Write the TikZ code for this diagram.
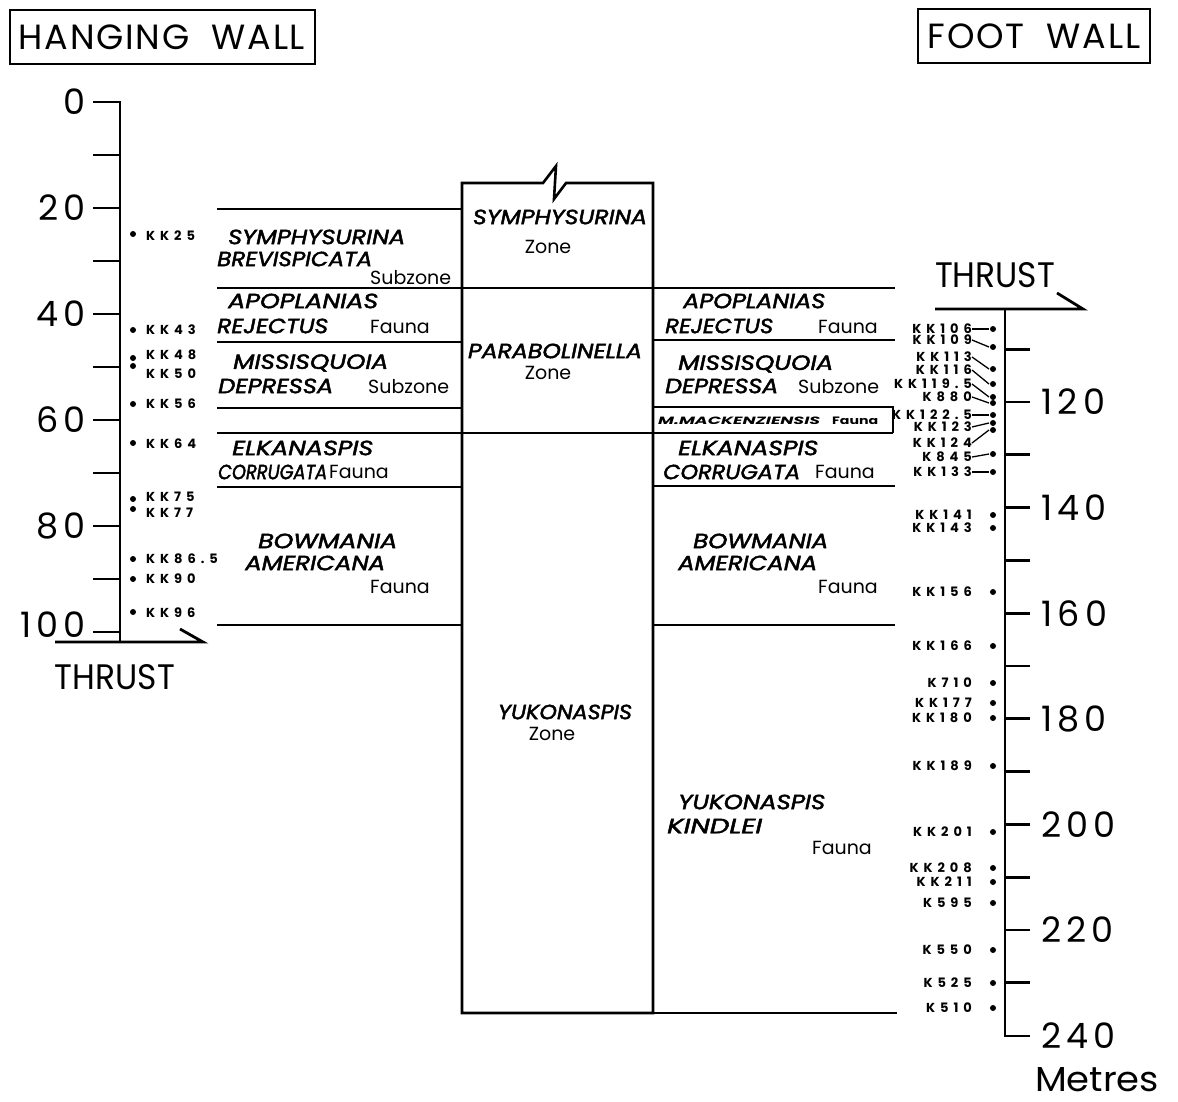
\documentclass[tikz,border=0pt]{standalone}
\usepackage{fontspec}
\usepackage{graphicx}
\usetikzlibrary{calc}
\setmainfont{Poppins}
\newfontfamily\spacedfont[LetterSpace=38]{Poppins}
\newfontfamily\numfont[LetterSpace=15]{Poppins}
\newfontfamily\titlefont[LetterSpace=5]{Poppins}
\newfontfamily\znfont[FakeBold=2]{Poppins}
\newcommand{\zname}[2]{\resizebox{#1pt}{14.5pt}{\znfont\itshape #2}}
\newcommand{\fitto}[3]{\resizebox{#1pt}{#2pt}{#3}}
\begin{document}
\begin{tikzpicture}[x=1pt,y=-1pt,
  zl/.style={line width=2.6pt},
  ax/.style={line width=2.8pt},
  big/.style={inner sep=0pt,font=\numfont\fontsize{35}{35}\selectfont},
  title/.style={draw,line width=2pt,inner sep=0pt,font=\titlefont\fontsize{35}{35}\selectfont},
  sp/.style={inner sep=0pt,anchor=west},
  rk/.style={inner sep=0pt,anchor=west,font=\fontsize{19}{19}\selectfont},
  smp/.style={inner sep=0pt,font=\spacedfont\bfseries\fontsize{13}{13}\selectfont},
  dt/.style={circle,fill,inner sep=0pt,minimum size=6pt},
  ld/.style={line width=1.3pt}
]
\useasboundingbox (0,0) rectangle (1178,1102);
% titles
\node[title,minimum width=305pt,minimum height=54pt] (hw) at (162,37) {HANGING\ \ WALL};
\node[title,minimum width=232pt,minimum height=54pt] (fw) at (1034,36) {FOOT\ \ WALL};
% left axis
\draw[ax] (93,102) -- (120,102) -- (120,642);
\foreach \m in {10,20,...,100} \draw[ax] (93,{102+5.3*\m}) -- (120,{102+5.3*\m});
\foreach \m in {0,20,40,60,80} \node[big,anchor=east] (l\m) at (86,{102+5.3*\m}) {\m};
\node[big,anchor=east] (l100) at (86,625) {100};
\draw[ax] (55,642) -- (203,642) -- (180,629);
\node[inner sep=0pt] (thl) at (115,677) {\fitto{120}{25}{THRUST}};
% right axis
\draw[ax] (935,309) -- (1083,309) -- (1057,293);
\node[inner sep=0pt] (thr) at (995,275) {\fitto{120}{25}{THRUST}};
\draw[ax] (1005,309) -- (1005,1036) -- (1030,1036);
\foreach \m in {110,120,...,230} \draw[ax] (1005,{402+5.28*(\m-120)}) -- (1030,{402+5.28*(\m-120)});
\foreach \m in {120,140,...,240} \node[big,anchor=west] (r\m) at (1041,{402+5.28*(\m-120)}) {\m};
\node[inner sep=0pt] (met) at (1097,1080) {\fitto{124}{24}{Metres}};
% middle box
\draw[zl] (462,1013) -- (462,183) -- (543,183) -- (556,166) -- (554,199) -- (566,183) -- (653,183) -- (653,1013) -- cycle;
% zone lines
\draw[zl] (217,209) -- (462,209);
\draw[zl] (217,288) -- (895,288);
\draw[zl] (217,342) -- (462,342);
\draw[zl] (653,340) -- (895,340);
\draw[zl] (217,408) -- (462,408);
\draw[zl] (653,407) -- (893,407) -- (893,433);
\draw[zl] (217,433) -- (893,433);
\draw[zl] (217,487) -- (462,487);
\draw[zl] (653,486) -- (895,486);
\draw[zl] (217,625) -- (462,625);
\draw[zl] (653,625) -- (895,625);
\draw[zl] (653,1013) -- (897,1013);
% left column names
\node[sp] (a1) at (228,237) {\zname{177}{SYMPHYSURINA}};
\node[sp] (a2) at (217,259) {\zname{155}{BREVISPICATA}};
\node[rk] (a3) at (370,278) {Subzone};
\node[sp] (b1) at (228,301) {\zname{150}{APOPLANIAS}};
\node[sp] (b2) at (217,326) {\zname{111}{REJECTUS}};
\node[rk] (b3) at (370,327) {Fauna};
\node[sp] (c1) at (233,363) {\zname{155}{MISSISQUOIA}};
\node[sp] (c2) at (218,386) {\zname{115}{DEPRESSA}};
\node[rk] (c3) at (368,387) {Subzone};
\node[sp] (d1) at (232,448) {\zname{141}{ELKANASPIS}};
\node[sp] (d2) at (218,472) {\zname{109}{CORRUGATA}};
\node[rk] (d3) at (329,472) {Fauna};
\node[sp] (e1) at (258,541) {\zname{139}{BOWMANIA}};
\node[sp] (e2) at (245,563) {\zname{140}{AMERICANA}};
\node[rk] (e3) at (370,587) {Fauna};
% middle names
\node[inner sep=0pt] (z1) at (560,217) {\zname{174}{SYMPHYSURINA}};
\node[rk,anchor=center] (z1b) at (548,247) {Zone};
\node[inner sep=0pt] (z2) at (555,351) {\zname{174}{PARABOLINELLA}};
\node[rk,anchor=center] (z2b) at (548,373) {Zone};
\node[inner sep=0pt] (z3) at (565,712) {\zname{134}{YUKONASPIS}};
\node[rk,anchor=center] (z3b) at (552,734) {Zone};
% right column names
\node[sp] (f1) at (683,301) {\zname{142}{APOPLANIAS}};
\node[sp] (f2) at (665,326) {\zname{108}{REJECTUS}};
\node[rk] (f3) at (818,327) {Fauna};
\node[sp] (g1) at (678,364) {\zname{155}{MISSISQUOIA}};
\node[sp] (g2) at (665,386) {\zname{113}{DEPRESSA}};
\node[rk] (g3) at (798,387) {Subzone};
\node[inner sep=0pt,anchor=west] (mm) at (658,421) {\fitto{162}{7.5}{\bfseries\itshape M.MACKENZIENSIS}};
\node[inner sep=0pt,anchor=west] (mmf) at (832,421) {\fitto{46}{7.5}{\bfseries Fauna}};
\node[sp] (h1) at (678,448) {\zname{140}{ELKANASPIS}};
\node[sp] (h2) at (663,472) {\zname{137}{CORRUGATA}};
\node[rk] (h3) at (815,472) {Fauna};
\node[sp] (i1) at (693,541) {\zname{135}{BOWMANIA}};
\node[sp] (i2) at (678,563) {\zname{139}{AMERICANA}};
\node[rk] (i3) at (818,587) {Fauna};
\node[sp] (j1) at (678,802) {\zname{147}{YUKONASPIS}};
\node[sp] (j2) at (667,826) {\zname{95}{KINDLEI}};
\node[rk] (j3) at (812,848) {Fauna};
% left samples
\foreach \n/\d/\t/\l in {s25/234/KK25/236, s43/330/KK43/330, s48/358/KK48/355, s50/366/KK50/374, s56/404/KK56/404, s64/443/KK64/444, s75/499/KK75/497, s77/509/KK77/513, s865/559/KK86.5/559, s90/579/KK90/579, s96/612/KK96/613}{
  \node[dt] (\n d) at (133,\d) {};
  \node[smp,anchor=west] (\n) at (146,\l) {\t};
}
% right samples with leaders
\foreach \n/\d/\t/\l in {r106/329/KK106/329, r109/347/KK109/340, r113/369/KK113/357, r116/384/KK116/370, r1195/397/KK119.5/384, r880/403/K880/397, r1225/415/KK122.5/415, r123/423/KK123/427, r124/430/KK124/443, r845/454/K845/457, r133/472/KK133/472}{
  \node[dt] (\n d) at (993,\d) {};
  \node[smp,anchor=east] (\n) at (972,\l) {\t};
  \draw[ld] ($(\n.east)+(0pt,0)$) -- ($(\n d)+(-4pt,0)$);
}
\foreach \n/\d/\t in {r141/515/KK141, r143/528/KK143, r156/592/KK156, r166/646/KK166, r710/683/K710, r177/703/KK177, r180/718/KK180, r189/766/KK189, r201/832/KK201, r208/868/KK208, r211/882/KK211, r595/903/K595, r550/950/K550, r525/983/K525, r510/1008/K510}{
  \node[dt] (\n d) at (993,\d) {};
  \node[smp,anchor=east] (\n) at (972,\d) {\t};
}
\end{tikzpicture}
\end{document}
